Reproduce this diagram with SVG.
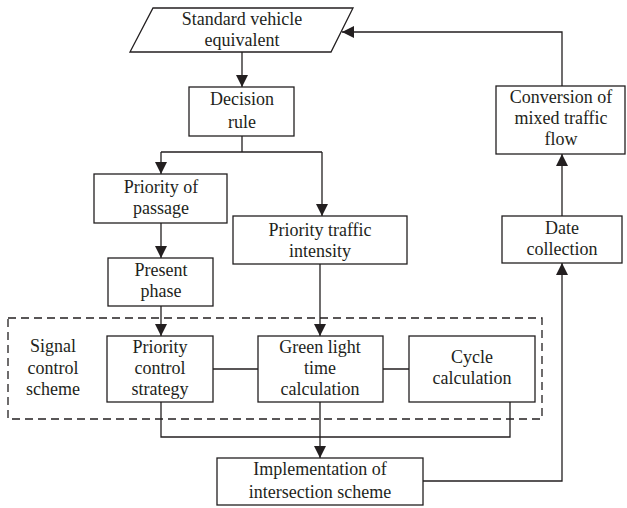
<svg xmlns="http://www.w3.org/2000/svg" width="627" height="508" viewBox="0 0 627 508">
<defs>
<marker id="ah" markerWidth="12" markerHeight="12" viewBox="0 0 12 12" refX="12" refY="6" orient="auto" markerUnits="userSpaceOnUse">
<path d="M0,0 L12,6 L0,12 Z" fill="#231f20"/>
</marker>
<style>
.b{fill:#fff;stroke:#231f20;stroke-width:1.3}
.t{font-family:"Liberation Serif","Times New Roman",serif;font-size:18px;fill:#231f20;text-anchor:middle}
.c{fill:none;stroke:#231f20;stroke-width:1.3}
.a{fill:none;stroke:#231f20;stroke-width:1.3;marker-end:url(#ah)}
.d{fill:none;stroke:#231f20;stroke-width:1.3;stroke-dasharray:8 5}
</style>
</defs>
<rect width="627" height="508" fill="#fff"/>
<g id="connectors">
<path class="a" d="M242,52 V87"/>
<path class="c" d="M242,136 V152 M161,152 H322"/>
<path class="a" d="M161,152 V174"/>
<path class="a" d="M322,152 V216"/>
<path class="a" d="M161,223 V258"/>
<path class="a" d="M161,306 V336"/>
<path class="a" d="M320,264 V336"/>
<path class="c" d="M213,369 H258 M383,369 H409"/>
<path class="c" d="M161,402 V437 H510 V402"/>
<path class="a" d="M320,402 V458"/>
<path class="a" d="M423,481 H562 V263"/>
<path class="a" d="M562,216 V154"/>
<path class="a" d="M562,86 V32 H342"/>
</g>
<g id="signal-control-scheme">
<rect class="d" x="8" y="318" width="534" height="101"/>
<text class="t" x="53" y="352">Signal</text>
<text class="t" x="53" y="374">control</text>
<text class="t" x="53" y="395">scheme</text>
</g>
<g id="standard-vehicle-equivalent">
<polygon class="b" points="153,8 353,8 331,52 130,52"/>
<text class="t" x="242" y="25">Standard vehicle</text>
<text class="t" x="242" y="46">equivalent</text>
</g>
<g id="decision-rule">
<rect class="b" x="189" y="87" width="105" height="49"/>
<text class="t" x="242" y="105">Decision</text>
<text class="t" x="242" y="128">rule</text>
</g>
<g id="priority-of-passage">
<rect class="b" x="94" y="174" width="133" height="49"/>
<text class="t" x="161" y="193">Priority of</text>
<text class="t" x="161" y="214">passage</text>
</g>
<g id="priority-traffic-intensity">
<rect class="b" x="233" y="216" width="174" height="48"/>
<text class="t" x="320" y="236">Priority traffic</text>
<text class="t" x="320" y="257">intensity</text>
</g>
<g id="present-phase">
<rect class="b" x="108" y="258" width="105" height="48"/>
<text class="t" x="161" y="276">Present</text>
<text class="t" x="161" y="297">phase</text>
</g>
<g id="priority-control-strategy">
<rect class="b" x="107" y="336" width="106" height="66"/>
<text class="t" x="160" y="353">Priority</text>
<text class="t" x="160" y="374">control</text>
<text class="t" x="160" y="395">strategy</text>
</g>
<g id="green-light-time-calculation">
<rect class="b" x="258" y="336" width="125" height="66"/>
<text class="t" x="320" y="353">Green light</text>
<text class="t" x="320" y="374">time</text>
<text class="t" x="320" y="395">calculation</text>
</g>
<g id="cycle-calculation">
<rect class="b" x="409" y="336" width="126" height="66"/>
<text class="t" x="472" y="363">Cycle</text>
<text class="t" x="472" y="384">calculation</text>
</g>
<g id="implementation">
<rect class="b" x="217" y="458" width="206" height="47"/>
<text class="t" x="320" y="475">Implementation of</text>
<text class="t" x="320" y="498">intersection scheme</text>
</g>
<g id="date-collection">
<rect class="b" x="502" y="216" width="120" height="47"/>
<text class="t" x="562" y="234">Date</text>
<text class="t" x="562" y="255">collection</text>
</g>
<g id="conversion">
<rect class="b" x="496" y="86" width="129" height="68"/>
<text class="t" x="561" y="103">Conversion of</text>
<text class="t" x="561" y="124">mixed traffic</text>
<text class="t" x="561" y="145">flow</text>
</g>
</svg>
